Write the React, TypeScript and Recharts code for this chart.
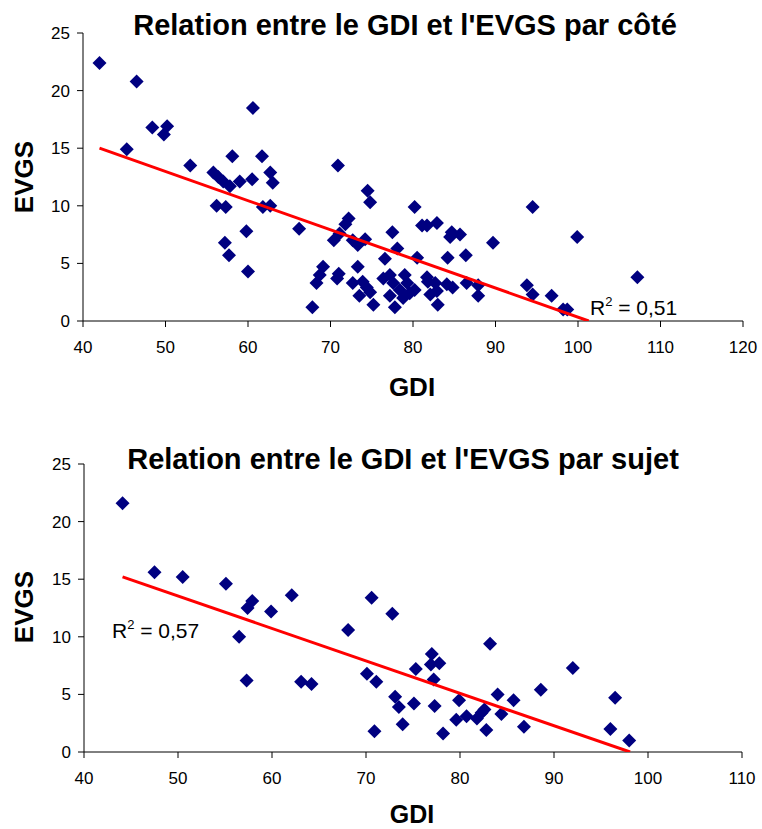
import { ScatterChart, Scatter, XAxis, YAxis } from "recharts";

// GDI / EVGS par côté
const sideGdi = [
  42.0, 46.5, 45.3, 48.4, 50.2, 49.8, 53.0, 55.8, 56.4, 57.0, 57.8, 59.0, 60.5, 58.1, 61.7, 60.6,
  62.7, 63.0, 56.2, 57.3, 57.2, 57.7, 59.8, 60.0, 61.8, 62.7, 66.2, 70.4, 71.1, 71.8, 72.2, 72.7,
  73.3, 74.2, 74.8, 74.5, 70.9, 67.8, 68.3, 68.7, 69.1, 70.8, 71.0, 72.7, 73.3, 73.5, 73.9, 74.4,
  74.8, 75.2, 77.5, 78.1, 76.6, 80.2, 81.1, 81.7, 82.9, 80.5, 84.2, 84.7, 84.5, 85.7, 76.4, 77.2,
  77.6, 77.2, 77.8, 78.4, 79.0, 79.3, 79.6, 78.8, 80.2, 81.7, 81.8, 82.1, 82.7, 82.9, 83.0, 84.8,
  84.1, 89.7, 94.5, 99.9, 107.2, 86.4, 86.5, 87.9, 87.9, 93.8, 94.5, 96.8, 98.2, 98.7,
];
const sideEvgs = [
  22.4, 20.8, 14.9, 16.8, 16.9, 16.2, 13.5, 12.9, 12.5, 12.1, 11.7, 12.1, 12.3, 14.3, 14.3, 18.5,
  12.9, 12.0, 10.0, 9.9, 6.8, 5.7, 7.8, 4.3, 9.9, 10.0, 8.0, 7.0, 7.6, 8.4, 8.9, 7.0,
  6.6, 7.1, 10.3, 11.3, 13.5, 1.2, 3.3, 4.0, 4.7, 3.7, 4.1, 3.3, 4.7, 2.2, 3.4, 2.9,
  2.5, 1.4, 7.7, 6.3, 5.4, 9.9, 8.3, 8.3, 8.5, 5.5, 5.5, 7.7, 7.3, 7.5, 3.7, 4.0,
  3.3, 2.2, 1.2, 2.7, 4.0, 3.3, 2.4, 2.0, 2.7, 3.8, 3.4, 2.3, 3.3, 2.6, 1.4, 2.9,
  3.2, 6.8, 9.9, 7.3, 3.8, 5.7, 3.3, 3.1, 2.2, 3.1, 2.3, 2.2, 1.0, 1.0,
];

// GDI / EVGS par sujet
const subjectGdi = [
  44.1, 47.5, 50.5, 55.1, 57.4, 57.9, 59.9, 62.1, 68.1, 70.6, 56.5, 57.3, 63.1, 64.2, 70.1, 71.1,
  70.9, 72.8, 83.2, 77.0, 76.9, 77.8, 75.3, 77.2, 73.1, 73.5, 75.1, 77.3, 73.9, 78.2, 79.9, 79.6,
  80.7, 81.8, 82.3, 82.6, 82.8, 84.0, 84.4, 85.7, 86.8, 88.6, 92.0, 96.5, 96.0, 98.0,
];
const subjectEvgs = [
  21.6, 15.6, 15.2, 14.6, 12.5, 13.1, 12.2, 13.6, 10.6, 13.4, 10.0, 6.2, 6.1, 5.9, 6.8, 6.1,
  1.8, 12.0, 9.4, 8.5, 7.6, 7.7, 7.2, 6.3, 4.8, 3.9, 4.2, 4.0, 2.4, 1.6, 4.5, 2.8,
  3.1, 2.9, 3.4, 3.7, 1.9, 5.0, 3.3, 4.5, 2.2, 5.4, 7.3, 4.7, 2.0, 1.0,
];

// linear trend lines (end points)
const sideTrendGdi = [42.0, 101.3];
const sideTrendEvgs = [15.0, 0];
const subjectTrendGdi = [44.1, 98.1];
const subjectTrendEvgs = [15.2, 0];

const yTicks = [0, 5, 10, 15, 20, 25];
const topXTicks = [40, 50, 60, 70, 80, 90, 100, 110, 120];
const bottomXTicks = [40, 50, 60, 70, 80, 90, 100, 110];

const FONT = "Arial, 'Liberation Sans', sans-serif";
const NAVY = "#000080";

const zip = (xs: number[], ys: number[]) => xs.map((x, i) => ({ x, y: ys[i] }));

function Diamond(props: any) {
  const { cx, cy } = props;
  const r = 7;
  return (
    <polygon
      points={`${cx},${cy - r} ${cx + r},${cy} ${cx},${cy + r} ${cx - r},${cy}`}
      fill={NAVY}
    />
  );
}

const noShape = () => <g />;

interface PanelProps {
  points: { x: number; y: number }[];
  trend: { x: number; y: number }[];
  xTicks: number[];
  margin: { top: number; right: number; bottom: number; left: number };
}

function Panel({ points, trend, xTicks, margin }: PanelProps) {
  const tickStyle = { fill: "#000", fontSize: 17, fontFamily: FONT };
  return (
    <ScatterChart width={762} height={415} margin={margin}>
      <XAxis
        type="number"
        dataKey="x"
        domain={[xTicks[0], xTicks[xTicks.length - 1]]}
        ticks={xTicks}
        interval={0}
        tick={tickStyle}
        tickSize={6}
        tickMargin={14}
        height={30}
        axisLine={{ stroke: "#000" }}
        tickLine={{ stroke: "#000" }}
        allowDataOverflow
      />
      <YAxis
        type="number"
        dataKey="y"
        domain={[0, 25]}
        ticks={yTicks}
        interval={0}
        tick={tickStyle}
        tickSize={6}
        tickMargin={7}
        width={60}
        axisLine={{ stroke: "#000" }}
        tickLine={{ stroke: "#000" }}
        allowDataOverflow
      />
      <Scatter data={points} shape={Diamond} isAnimationActive={false} />
      <Scatter
        data={trend}
        shape={noShape}
        line={{ stroke: "#FF0000", strokeWidth: 3 }}
        isAnimationActive={false}
      />
    </ScatterChart>
  );
}

export default function App() {
  return (
    <div style={{ position: "absolute", left: 0, top: 0, width: 762, height: 829, background: "#fff" }}>
      <div style={{ position: "absolute", left: 0, top: 0 }}>
        <Panel
          points={zip(sideGdi, sideEvgs)}
          trend={zip(sideTrendGdi, sideTrendEvgs)}
          xTicks={topXTicks}
          margin={{ top: 33, right: 19, bottom: 64, left: 23 }}
        />
      </div>
      <div style={{ position: "absolute", left: 0, top: 415 }}>
        <Panel
          points={zip(subjectGdi, subjectEvgs)}
          trend={zip(subjectTrendGdi, subjectTrendEvgs)}
          xTicks={bottomXTicks}
          margin={{ top: 49, right: 20, bottom: 48, left: 24 }}
        />
      </div>
      <svg
        width={762}
        height={829}
        style={{ position: "absolute", left: 0, top: 0, pointerEvents: "none" }}
        fontFamily={FONT}
      >
        <text x={405} y={35} textAnchor="middle" fontSize={29} fontWeight="bold">
          Relation entre le GDI et l'EVGS par côté
        </text>
        <text x={403} y={469} textAnchor="middle" fontSize={29} fontWeight="bold">
          Relation entre le GDI et l'EVGS par sujet
        </text>
        <text x={33} y={177} transform="rotate(-90 33 177)" textAnchor="middle" fontSize={26} fontWeight="bold">
          EVGS
        </text>
        <text x={33} y={607} transform="rotate(-90 33 607)" textAnchor="middle" fontSize={26} fontWeight="bold">
          EVGS
        </text>
        <text x={412} y={396} textAnchor="middle" fontSize={26} fontWeight="bold">
          GDI
        </text>
        <text x={412} y={823} textAnchor="middle" fontSize={25} fontWeight="bold">
          GDI
        </text>
        <text x={590} y={315} fontSize={21}>
          R<tspan dy={-9} fontSize={13}>2</tspan>
          <tspan dy={9}> = 0,51</tspan>
        </text>
        <text x={112} y={638} fontSize={21}>
          R<tspan dy={-9} fontSize={13}>2</tspan>
          <tspan dy={9}> = 0,57</tspan>
        </text>
      </svg>
    </div>
  );
}
